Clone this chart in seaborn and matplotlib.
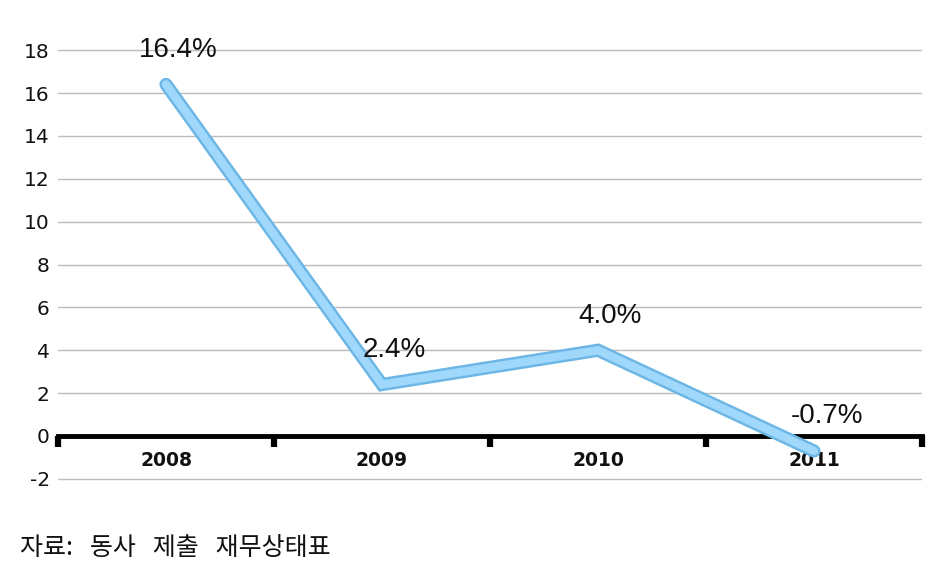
import matplotlib
matplotlib.use("Agg")
import matplotlib.pyplot as plt
import seaborn as sns
import numpy as np
import pandas as pd

years = ["2008", "2009", "2010", "2011"]
growth = [16.4, 2.4, 4.0, -0.7]
labels = ["16.4%", "2.4%", "4.0%", "-0.7%"]
yticks = [-2, 0, 2, 4, 6, 8, 10, 12, 14, 16, 18]
source = "자료:   동사   제출   재무상태표"

sns.set_theme(style="white")
plt.rcParams['font.family'] = ['DejaVu Sans', 'Noto Sans CJK KR']

W, H = 951, 575
fig = plt.figure(figsize=(W / 100, H / 100), dpi=100)
ax = fig.add_axes([58 / W, 1 - 481 / H, (922 - 58) / W, (481 - 48) / H])

pos = np.arange(len(years))
df = pd.DataFrame({"pos": pos, "growth": growth})

# grid lines
for t in yticks:
    ax.axhline(t, color="#bcbcbc", lw=1.0, zorder=0)

sns.lineplot(data=df, x="pos", y="growth", ax=ax, color="#6cb6e6", lw=9.5,
             solid_capstyle="round", solid_joinstyle="miter", zorder=3)
sns.lineplot(data=df, x="pos", y="growth", ax=ax, color="#9fd8fa", lw=6,
             solid_capstyle="round", solid_joinstyle="miter", zorder=4)

for x, y, lab in zip(pos, growth, labels):
    ax.annotate(lab, (x, y), xytext=(9, 25), textcoords="offset points",
                ha="center", va="center", fontsize=20,
                family="Liberation Sans", color="#111111", zorder=5)

ax.set_xlim(-0.5, len(years) - 0.5)
ax.set_ylim(-2.1, 18.1)

for s in ["top", "right", "left"]:
    ax.spines[s].set_visible(False)
ax.spines["bottom"].set_position(("data", 0))
ax.spines["bottom"].set_linewidth(3.5)
ax.spines["bottom"].set_color("black")
ax.spines["bottom"].set_zorder(2)
ax.spines["bottom"].set_bounds(-0.5, len(years) - 0.5)

ax.set_xticks(np.arange(len(years) + 1) - 0.5)
ax.set_xticklabels([])
ax.tick_params(axis="x", which="major", bottom=True, length=8, width=4.5,
               color="black", direction="out")
ax.set_xticks(pos, minor=True)
ax.set_xticklabels(years, minor=True, fontsize=13.5, fontweight="bold", color="#111111")
ax.tick_params(axis="x", which="minor", bottom=True, length=0, pad=11)

ax.set_yticks(yticks)
ax.set_yticklabels([str(t) for t in yticks], fontsize=14.5, color="#111111")
ax.tick_params(axis="y", length=0, pad=6)
ax.set_xlabel("")
ax.set_ylabel("")

fig.text(20 / W, 1 - 548 / H, source, ha="left", va="center", fontsize=18,
         family=["Noto Sans CJK KR", "DejaVu Sans"], color="#111111")

fig.savefig("out.png", dpi=100)
